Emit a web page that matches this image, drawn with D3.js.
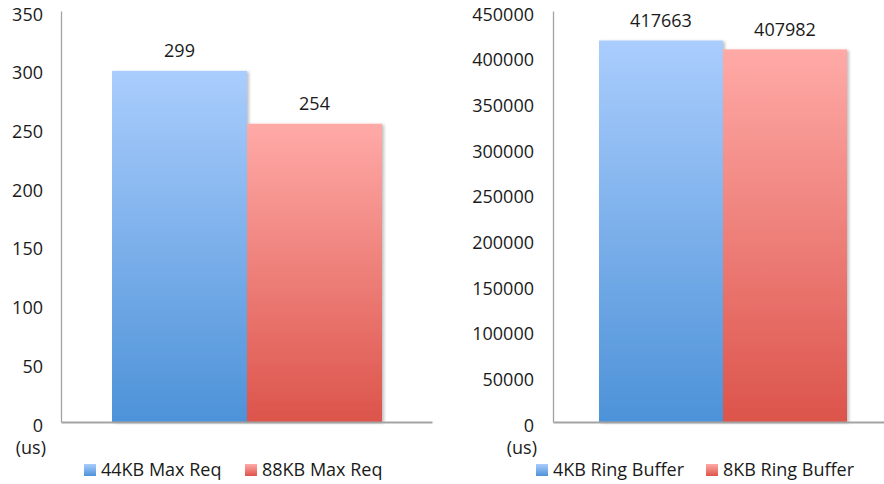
<!DOCTYPE html>
<html>
<head>
<meta charset="utf-8">
<script src="https://cdn.jsdelivr.net/npm/d3@7"></script>
<style>
  html, body { margin: 0; padding: 0; background: #fff; }
  svg { display: block; font-family: "Open Sans", sans-serif; }
</style>
</head>
<body>
<svg id="chart" width="884" height="484"></svg>
<script>
// Latency comparison: max request size (left) and ring buffer size (right)
const leftSeries = ["44KB Max Req", "88KB Max Req"];
const leftValues = [299, 254];
const leftTicks = [0, 50, 100, 150, 200, 250, 300, 350];

const rightSeries = ["4KB Ring Buffer", "8KB Ring Buffer"];
const rightValues = [417663, 407982];
const rightTicks = [0, 50000, 100000, 150000, 200000, 250000, 300000, 350000, 400000, 450000];

const unitLabel = "(us)";

const svg = d3.select("#chart");
const defs = svg.append("defs");

// Vertical gradients for the two series colours
const gradients = [
  { id: "gBlue", top: "#aacdfd", bottom: "#4d92d8" },
  { id: "gRed",  top: "#ffaaa7", bottom: "#dc544b" }
];
gradients.forEach(g => {
  const lg = defs.append("linearGradient")
    .attr("id", g.id).attr("x1", 0).attr("y1", 0).attr("x2", 0).attr("y2", 1);
  lg.append("stop").attr("offset", "0%").attr("stop-color", g.top);
  lg.append("stop").attr("offset", "100%").attr("stop-color", g.bottom);
});
const fills = ["url(#gBlue)", "url(#gRed)"];

const shadow = defs.append("filter").attr("id", "shadow")
  .attr("x", "-10%").attr("y", "-10%").attr("width", "130%").attr("height", "120%");
shadow.append("feDropShadow").attr("dx", 2).attr("dy", 1)
  .attr("stdDeviation", 1.5).attr("flood-color", "#000").attr("flood-opacity", 0.25);

const fontSize = 18;
const textColor = "#1a1a1a";
const axisColor = "#a3a3a3";

function drawPanel(cfg) {
  const g = svg.append("g");
  const y = d3.scaleLinear()
    .domain([0, d3.max(cfg.ticks)])
    .range([cfg.bottom, cfg.top]);
  const x = d3.scaleBand()
    .domain(cfg.series)
    .range([cfg.barLeft, cfg.barRight])
    .paddingInner(0).paddingOuter(0);

  // Bars
  g.selectAll("rect.bar")
    .data(cfg.values)
    .join("rect")
    .attr("class", "bar")
    .attr("x", (d, i) => x(cfg.series[i]))
    .attr("y", d => y(d))
    .attr("width", x.bandwidth())
    .attr("height", d => y(0) - y(d))
    .attr("fill", (d, i) => fills[i])
    .attr("filter", "url(#shadow)");

  // Value labels
  g.selectAll("text.val")
    .data(cfg.values)
    .join("text")
    .attr("class", "val")
    .attr("x", (d, i) => x(cfg.series[i]) + x.bandwidth() / 2)
    .attr("y", d => y(d) - 20)
    .attr("dy", "0.35em")
    .attr("text-anchor", "middle")
    .attr("font-size", fontSize)
    .attr("fill", textColor)
    .text(d => d);

  // Y axis using d3's axis generator, restyled
  const yAxis = g.append("g")
    .attr("transform", `translate(${cfg.axisX},0)`)
    .call(d3.axisLeft(y).tickValues(cfg.ticks).tickSize(0).tickPadding(cfg.axisX - cfg.labelRight)
      .tickFormat(d3.format("d")));
  yAxis.select(".domain").attr("stroke", axisColor).attr("stroke-width", 1.3);
  yAxis.selectAll(".tick text")
    .attr("font-size", fontSize)
    .attr("font-family", "Open Sans, sans-serif")
    .attr("fill", textColor)
    .attr("dy", "0.5em");

  // Baseline (category axis)
  const xAxisScale = d3.scaleLinear().range([cfg.axisX, cfg.axisRight]);
  const xAxis = g.append("g")
    .attr("transform", `translate(0,${y(0)})`)
    .call(d3.axisBottom(xAxisScale).tickValues([]).tickSizeOuter(0));
  xAxis.select(".domain").attr("stroke", axisColor).attr("stroke-width", 2);

  // Unit label under the axis
  g.append("text")
    .attr("x", cfg.labelRight + 3)
    .attr("y", cfg.bottom + 26)
    .attr("dy", "0.35em")
    .attr("text-anchor", "end")
    .attr("font-size", fontSize)
    .attr("fill", textColor)
    .text(unitLabel);

  // Legend
  const legend = g.selectAll("g.legend")
    .data(cfg.series)
    .join("g")
    .attr("class", "legend")
    .attr("transform", (d, i) => `translate(${cfg.legendX[i]},${cfg.legendY})`);
  legend.append("rect")
    .attr("x", 0).attr("y", -6).attr("width", 12).attr("height", 12)
    .attr("fill", (d, i) => fills[i]);
  legend.append("text")
    .attr("x", 17).attr("y", 0).attr("dy", "0.35em")
    .attr("font-size", fontSize)
    .attr("fill", textColor)
    .text(d => d);
}

drawPanel({
  series: leftSeries, values: leftValues, ticks: leftTicks,
  top: 11, bottom: 422, axisX: 61, axisRight: 432,
  barLeft: 112, barRight: 382, labelRight: 43,
  legendX: [84, 245], legendY: 470
});

drawPanel({
  series: rightSeries, values: rightValues, ticks: rightTicks,
  top: 11, bottom: 422, axisX: 553, axisRight: 893,
  barLeft: 599, barRight: 847, labelRight: 534,
  legendX: [536, 706], legendY: 470
});
</script>
</body>
</html>
